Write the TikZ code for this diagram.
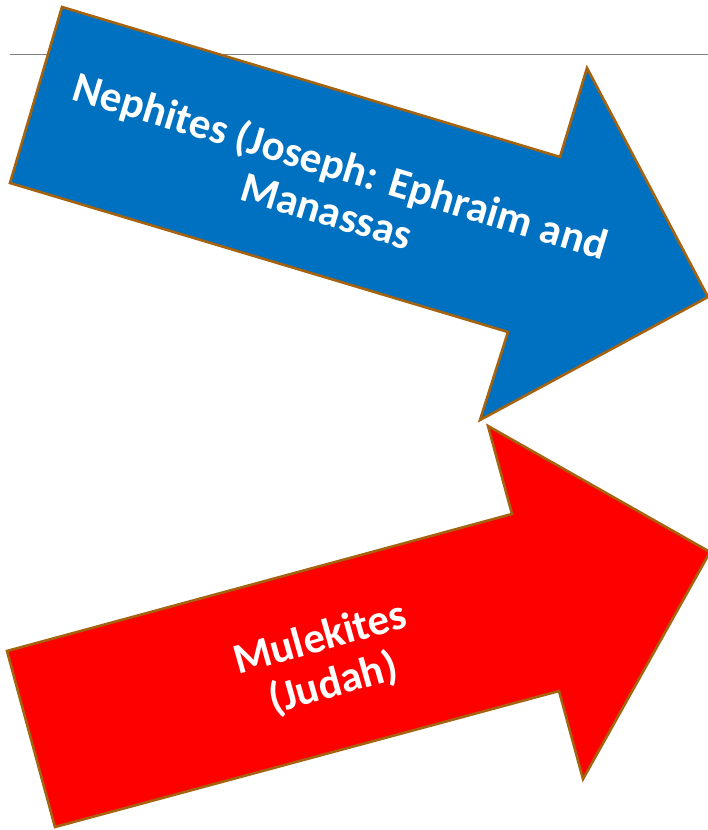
\documentclass[tikz,border=0pt]{standalone}
\usepackage{fontspec}
\setmainfont{Carlito}
\definecolor{arrowedge}{HTML}{A5620F}
\definecolor{bluefill}{HTML}{0070C0}
\definecolor{redfill}{HTML}{FF0000}
\definecolor{rulegray}{HTML}{808080}
\begin{document}
\begin{tikzpicture}[x=1pt,y=1pt,
  bigarrow/.style={draw=arrowedge,line width=2.6pt,line join=miter},
  label/.style={text=white,font=\bfseries\fontsize{43}{47}\selectfont,align=center,inner sep=0pt}]
\useasboundingbox (0,0) rectangle (708,830);
\draw[rulegray,line width=1pt] (10,775) -- (708,775);
% blue arrow
\filldraw[bigarrow,fill=bluefill]
  (62,823) -- (560,673) -- (587,762) -- (708,533) -- (480,410) -- (508,498) -- (10,647) -- cycle;
% red arrow
\filldraw[bigarrow,fill=redfill]
  (7,179) -- (512,316) -- (488,404) -- (710,278) -- (583,51) -- (559,139) -- (55,3) -- cycle;
\node[label,rotate=-16.8] (neph) at (334,643) {Nephites (Joseph: Ephraim and\\Manassas};
\node[label,rotate=15.8] (mul) at (327,168) {Mulekites\\(Judah)};
\end{tikzpicture}
\end{document}
